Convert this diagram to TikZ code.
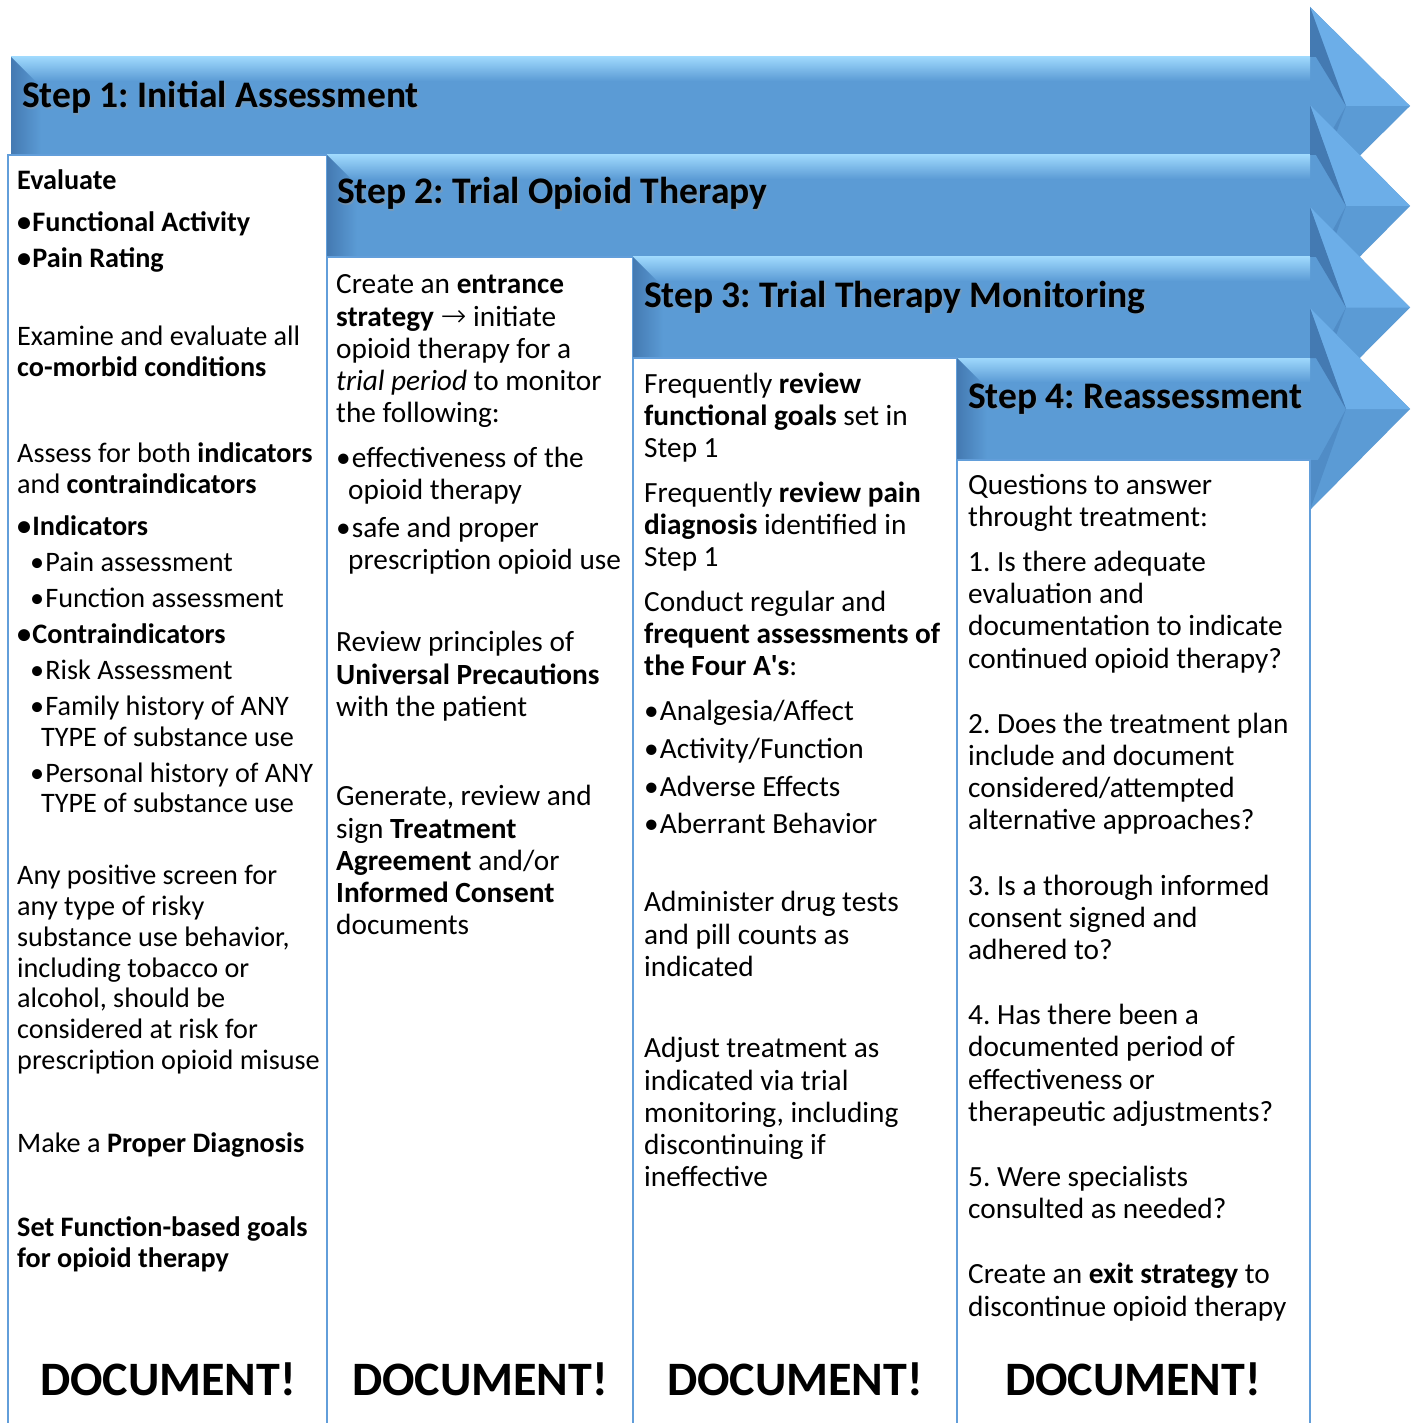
\documentclass[tikz,border=0pt]{standalone}
\usepackage{fontspec}
\setmainfont{Carlito}
\newfontfamily\arrowfont{DejaVu Sans ExtraLight}
\frenchspacing
\definecolor{bandblue}{RGB}{91,155,213}
\definecolor{bandlight}{RGB}{158,216,252}
\definecolor{banddark}{RGB}{68,122,178}
\definecolor{headlight}{RGB}{108,174,232}
\definecolor{headmid}{RGB}{80,140,198}
\definecolor{boxblue}{RGB}{98,158,218}
\newcommand{\bul}{•\kern1.2pt}
\tikzset{
  bodytext/.style={anchor=base west, inner sep=0pt, font=\fontsize{29.3}{33}\selectfont},
  bodyone/.style={anchor=base west, inner sep=0pt, font=\fontsize{28.2}{31}\selectfont},
  titletext/.style={anchor=base west, inner sep=0pt, font=\fontsize{37.5}{44}\selectfont\bfseries},
  titleshade/.style={titletext, text=black!40, opacity=0.45},
  doctext/.style={anchor=base, inner sep=0pt, font=\fontsize{48}{56}\selectfont\bfseries},
  colbox/.style={fill=white, draw=boxblue, line width=2.5pt},
}
% one step arrow: left x, band top y, band bottom y
\newcommand{\steparrow}[3]{%
  \pgfmathsetmacro\ymid{(#2+#3)/2}%
  \pgfmathsetmacro\htop{#2-50}%
  \pgfmathsetmacro\hbot{#3+50}%
  \fill[bandblue] (#1,#2) -- (1310,#2) -- (1310,\htop) -- (1410,\ymid)
     -- (1310,\hbot) -- (1310,#3) -- (#1,#3) -- cycle;
  \shade[top color=bandlight, bottom color=bandblue] (#1,#2) rectangle (1310,#2+24);
  \shade[left color=banddark, right color=bandblue]
     (#1,#2) -- (#1+30,#2+30) -- (#1+30,#3) -- (#1,#3) -- cycle;
  \fill[headlight] (1310,\htop) -- (1410,\ymid) -- (1346,\ymid) -- cycle;
  \fill[banddark] (1310,\htop) -- (1346,\ymid) -- (1316,#2) -- (1310,#2) -- cycle;
  \fill[headmid] (1346,\ymid) -- (1310,\hbot) -- (1310,#3) -- (1318,#3) -- cycle;
}
\begin{document}
\begin{tikzpicture}[x=1pt,y=-1pt]
\useasboundingbox (0,0) rectangle (1416,1423);
\clip (0,0) rectangle (1416,1423);
\fill[white] (0,0) rectangle (1416,1423);

% step 1 and its column
\steparrow{11}{57}{155}
\node[titleshade] (t1s) at (23.5,109.5) {Step 1: Initial Assessment};
\node[titletext] (t1) at (22,108) {Step 1: Initial Assessment};
\path[colbox] (8,155) rectangle (327,1440);

% step 2 and its column
\steparrow{327}{155}{257}
\node[titleshade] (t2s) at (338.5,205.5) {Step 2: Trial Opioid Therapy};
\node[titletext] (t2) at (337,204) {Step 2: Trial Opioid Therapy};
\path[colbox] (327,257) rectangle (633,1440);

% step 3 and its column
\steparrow{633}{257}{358}
\node[titleshade] (t3s) at (645.5,308.5) {Step 3: Trial Therapy Monitoring};
\node[titletext] (t3) at (644,307) {Step 3: Trial Therapy Monitoring};
\path[colbox] (633,358) rectangle (957,1440);

% step 4 and its column
\steparrow{957}{358}{460}
\node[titleshade] (t4s) at (969.5,409.5) {Step 4: Reassessment};
\node[titletext] (t4) at (968,408) {Step 4: Reassessment};
\path[colbox] (957,460) rectangle (1310,1440);

% column 1 text
\foreach \x/\y/\t [count=\i] in {
  17/180/{\textbf{Evaluate}},
  17/222/{\textbf{\bul Functional Activity}},
  17/258/{\textbf{\bul Pain Rating}},
  17/336/{Examine and evaluate all},
  17/367/{\textbf{co-morbid conditions}},
  17/453/{Assess for both \textbf{indicators}},
  17/484/{and \textbf{contraindicators}},
  17/526/{\textbf{\bul Indicators}},
  30/562/{\bul Pain assessment},
  30/598/{\bul Function assessment},
  17/634/{\textbf{\bul Contraindicators}},
  30/670/{\bul Risk Assessment},
  30/706/{\bul Family history of ANY},
  41/737/{TYPE of substance use},
  30/773/{\bul Personal history of ANY},
  41/803/{TYPE of substance use},
  17/875/{Any positive screen for},
  17/906/{any type of risky},
  17/937/{substance use behavior,},
  17/968/{including tobacco or},
  17/998/{alcohol, should be},
  17/1029/{considered at risk for},
  17/1060/{prescription opioid misuse},
  17/1143/{Make a \textbf{Proper Diagnosis}},
  17/1227/{\textbf{Set Function-based goals}},
  17/1258/{\textbf{for opioid therapy}}}
  \node[bodyone] (a\i) at (\x,\y+9.5) {\t};

% column 2 text
\foreach \x/\y/\t [count=\i] in {
  336/283/{Create an \textbf{entrance}},
  336/316/{\textbf{strategy} {\arrowfont\fontsize{31}{33}\selectfont →} initiate},
  336/348/{opioid therapy for a},
  336/380/{\textit{trial period} to monitor},
  336/412/{the following:},
  336/457/{\bul effectiveness of the},
  348/489/{opioid therapy},
  336/527/{\bul safe and proper},
  348/559/{prescription opioid use},
  336/641/{Review principles of},
  336/674/{\textbf{Universal Precautions}},
  336/706/{with the patient},
  336/795/{Generate, review and},
  336/828/{sign \textbf{Treatment}},
  336/860/{\textbf{Agreement} and/or},
  336/892/{\textbf{Informed Consent}},
  336/924/{documents}}
  \node[bodytext] (b\i) at (\x,\y+10) {\t};

% column 3 text
\foreach \y/\t [count=\i] in {
  383/{Frequently \textbf{review}},
  415/{\textbf{functional goals} set in},
  447/{Step 1},
  492/{Frequently \textbf{review pain}},
  524/{\textbf{diagnosis} identified in},
  556/{Step 1},
  601/{Conduct regular and},
  633/{\textbf{frequent assessments of}},
  665/{\textbf{the Four A\textquotesingle s}:},
  710/{\bul Analgesia/Affect},
  748/{\bul Activity/Function},
  786/{\bul Adverse Effects},
  823/{\bul Aberrant Behavior},
  901/{Administer drug tests},
  934/{and pill counts as},
  966/{indicated},
  1047/{Adjust treatment as},
  1080/{indicated via trial},
  1112/{monitoring, including},
  1144/{discontinuing if},
  1176/{ineffective}}
  \node[bodytext] (c\i) at (644,\y+10) {\t};

% column 4 text
\foreach \y/\t [count=\i] in {
  484/{Questions to answer},
  516/{throught treatment:},
  561/{1. Is there adequate},
  593/{evaluation and},
  625/{documentation to indicate},
  658/{continued opioid therapy?},
  723/{2. Does the treatment plan},
  755/{include and document},
  787/{considered/attempted},
  819/{alternative approaches?},
  885/{3. Is a thorough informed},
  917/{consent signed and},
  949/{adhered to?},
  1014/{4. Has there been a},
  1046/{documented period of},
  1079/{effectiveness or},
  1111/{therapeutic adjustments?},
  1176/{5. Were specialists},
  1208/{consulted as needed?},
  1273/{Create an \textbf{exit strategy} to},
  1306/{discontinue opioid therapy}}
  \node[bodytext] (d\i) at (968,\y+10) {\t};

% closing reminder in every column
\node[doctext] (doc1) at (168,1395) {DOCUMENT!};
\node[doctext] (doc2) at (480,1395) {DOCUMENT!};
\node[doctext] (doc3) at (795,1395) {DOCUMENT!};
\node[doctext] (doc4) at (1133,1395) {DOCUMENT!};
\end{tikzpicture}
\end{document}
